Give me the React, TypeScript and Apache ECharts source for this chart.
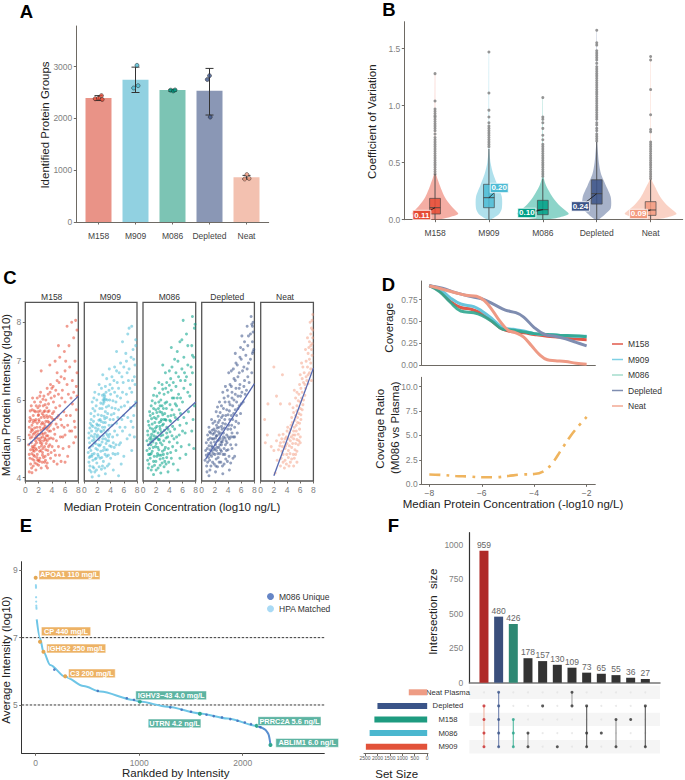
import React, { useEffect, useRef } from "react";
import * as echarts from "echarts";

const FONT = "'Liberation Sans', Arial, sans-serif";
const AX = "#6e6a64";
const cats = ["M158", "M909", "M086", "Depleted", "Neat"];
const solid = ["#E64B35", "#4DBBD5", "#00A087", "#3C5488", "#F39B7F"];
const barCols = ["#E99387", "#91D1E1", "#7CC4B4", "#8A97B5", "#F3C1B0"];

// A
const identified = [2394, 2748, 2548, 2535, 865];
const identifiedErr = [[2345, 2440], [2500, 2990], [2520, 2560], [2065, 2965], [830, 900]];
const identifiedDots = [
  [[0.91, 2380], [1.0, 2390], [1.08, 2440], [1.1, 2365]],
  [[2.04, 3025], [2.07, 2632], [1.95, 2587]],
  [[2.95, 2545], [3.02, 2530], [3.07, 2550]],
  [[4.02, 2025], [4.0, 2825], [3.94, 2750]],
  [[5.01, 915], [5.07, 840], [4.95, 830]],
];

// B
const violins = [
  [[0, .05], [.02, .25], [.05, .43], [.08, .38], [.12, .3], [.2, .18], [.3, .09], [.4, .02], [.5, .006], [1.28, .003]],
  [[0, .03], [.05, .19], [.1, .24], [.2, .24], [.3, .16], [.4, .08], [.5, .03], [.62, .008], [1.47, .003]],
  [[0, .05], [.02, .3], [.05, .48], [.08, .42], [.12, .32], [.2, .18], [.3, .06], [.36, .02], [.5, .006], [1.07, .003]],
  [[0, .03], [.05, .16], [.1, .26], [.2, .26], [.3, .17], [.4, .08], [.5, .04], [.6, .02], [.68, .008], [1.66, .003]],
  [[0, .05], [.02, .3], [.05, .48], [.08, .42], [.12, .32], [.2, .18], [.3, .07], [.35, .02], [.5, .006], [1.43, .003]],
];
const boxStats = [
  [.05, .105, .187, .4], [.105, .193, .31, .62], [.044, .088, .17, .36], [.137, .228, .35, .68], [.038, .085, .158, .35],
];
const medianLabels = ["0.11", "0.20", "0.10", "0.24", "0.09"];
const medianOffsets = [[-13.2, 7.3], [10.3, -9.7], [-16, 3.3], [-16.3, 12.7], [-12, 4]];
const outliers = [
  [1.28, 1.04, .97, .95, .93, .91, .9, .88, .86, .84, .82, .8, .78, .75, .72, .7, .68, .66, .64, .62, .6, .58, .56, .54, .52, .5, .48, .46, .44, .42, .4],
  [1.47, 1.11, .96, .9, .85, .82, .8, .78, .76, .74, .72, .7, .68, .66, .64],
  [1.07, .9, .88, .85, .8, .74, .7, .66, .64, .62, .6, .58, .56, .54, .52, .5, .48, .46, .44, .42, .4, .38],
  [1.66, 1.55, 1.53, 1.48, 1.46, 1.44, 1.42, 1.4, 1.37, 1.34, 1.32, 1.3, 1.28, 1.26, 1.24, 1.22, 1.2, 1.18, 1.16, 1.14, 1.12, 1.1, 1.08, 1.06, 1.04, 1.02, 1, .98, .96, .94, .92, .9, .88, .85, .83, .8, .78, .75, .73, .71, .69],
  [1.43, 1.4, 1.14, .92, .79, .77, .68, .66, .64, .62, .6, .58, .56, .54, .52, .5, .48, .46, .44, .42, .4, .38, .36],
];

// C
const scM158 = [[0.6,4.15],[1,4.13],[0.8,4.35],[1.2,4.3],[1.6,4.2],[2,4.32],[2.4,4.25],[2.9,4.4],[3.3,4.38],[3.8,4.5],[4.3,4.42],[4.8,4.35],[5.4,4.42],[6,4.4],[6.4,4.55],[0.6,4.6],[1,4.62],[1.4,4.55],[1.8,4.6],[2.2,4.5],[2.6,4.65],[3,4.55],[3.4,4.7],[3.9,4.65],[4.4,4.7],[5,4.8],[5.7,4.75],[6.6,4.8],[7.3,4.9],[0.5,4.85],[0.9,4.9],[1.3,4.8],[1.7,4.9],[2.1,4.78],[2.5,4.88],[2.9,4.8],[3.3,4.95],[3.7,4.85],[4.2,5],[4.7,4.95],[5.3,5.05],[6,5.1],[7,5.2],[7.6,5.05],[0.6,5.1],[1,5.05],[1.4,5.15],[1.8,5.02],[2.2,5.12],[2.6,5.05],[3,5.15],[3.4,5.08],[3.8,5.2],[4.3,5.25],[4.9,5.3],[5.5,5.35],[6.4,5.35],[7.4,5.45],[0.6,5.3],[1,5.35],[1.4,5.28],[1.8,5.4],[2.2,5.3],[2.6,5.42],[3,5.32],[3.4,5.45],[3.9,5.4],[4.4,5.5],[5,5.6],[5.8,5.7],[6.8,5.6],[7.7,5.75],[0.7,5.55],[1.2,5.6],[1.6,5.5],[2,5.62],[2.4,5.55],[2.8,5.7],[3.2,5.6],[3.6,5.72],[4.1,5.65],[4.6,5.8],[5.2,5.85],[6,5.95],[6.9,6.05],[7.8,6.1],[0.9,5.85],[1.4,5.95],[1.9,5.8],[2.3,5.95],[2.7,5.85],[3.1,6],[3.5,5.9],[3.9,6.05],[4.4,6.1],[5,6.15],[5.6,6.25],[6.3,6.4],[7.1,6.5],[7.7,6.35],[1.1,6.05],[2.3,6.2],[2.8,6.1],[3.3,6.3],[3.8,6.4],[4.2,6.35],[4.8,6.5],[5.4,6.6],[6,6.75],[6.7,6.85],[7.5,7],[2.4,6.75],[3.7,6.9],[4.5,7],[5.2,7.1],[5.9,7.25],[6.6,7.4],[7.3,7.6],[7.8,7.8],[6.3,7.9],[7,8],[7.6,8.05],[5,7.4],[4.8,6.7],[6.1,7],[1.3,4.45],[1.7,4.72],[2.3,4.95],[2.7,5.25],[3.1,4.72],[3.5,5.3],[1.1,5.22],[1.5,5.45],[1.9,5.2],[0.8,4.72],[2.05,5.5],[2.9,5.55],
  [0.7,4.5],[1.15,4.75],[1.45,4.38],[1.55,4.95],[1.75,5.3],[2.15,4.42],[2.35,5.22],[2.55,4.4],[2.75,4.95],[3.05,4.45],[3.25,5.25],[3.55,5],[3.75,5.35],[4.05,4.8],[4.15,5.5],[0.65,5.45],[0.85,5.18],[1.05,4.48],[1.25,5.48],[1.35,4.68],[1.65,5.08],[1.85,4.45],[1.95,5.6],[2.05,4.98],[2.25,5.72],[2.45,5.38],[2.65,4.75],[2.85,5.38],[2.95,5.02],[3.15,4.88],[3.35,5.55],[3.45,4.6],[3.65,5.58],[3.85,5.02],[4.45,5.12],[4.55,4.58],[4.65,5.38],[5.15,4.58],[5.35,5.5],[5.65,5.05],[5.85,5.3],[6.2,5.6],[6.7,5.2],[7.1,5.9],[7.5,5.3],[0.75,5.72],[1.05,5.75],[1.15,5.42],[1.55,5.7],[1.65,5.85],[1.75,4.52],[2.15,5.85],[2.35,4.7],[2.55,5.65],[2.65,6.02],[2.95,5.72],[3.25,5.8],[3.45,6.15],[3.55,5.2],[3.75,6.2],[4,6.3],[4.25,5.95],[4.6,6.25],[5.1,6.45],[5.5,6.05],[5.9,6.55],[6.5,6.15],[7.3,6.2],[7.8,6.7],[0.95,4.25],[1.25,4.58],[1.75,4.35],[2.15,4.68],[2.45,4.82],[2.75,4.52],[3.35,4.25],[3.15,4.3],[1.45,4.85],[1.6,5.18],[1.9,5.12],[2.3,5.02],[2.7,5.12],[0.95,5.25],[1.2,5.12],[1.5,5.02],[2.1,5.45],[2.5,5.15],[2.8,5.28],[3.2,5.08],[3.6,5.42],[3.95,5.55],[4.3,5.7],[4.8,5.55],[0.85,5.5],[1.35,5.72],[1.95,5.7],[2.75,5.6],[3.1,5.45],[3,5.88],[3.4,5.7],[2.2,6.1],[1.8,6.05],[1.2,4.7],[1.55,4.75],[0.75,5.02],[1.05,4.8],[2,4.45],[2.25,4.9],[2.6,4.58],[3.05,4.98],[3.5,4.8]];
const scM909 = [[1.2,4.02],[2.2,4.05],[3.2,4.1],[5.2,4.05],[0.8,4.2],[1.6,4.15],[2.6,4.22],[3.5,4.3],[4.4,4.2],[5.6,4.35],[0.7,4.4],[1.3,4.45],[1.9,4.38],[2.4,4.5],[2.9,4.42],[3.4,4.55],[4,4.5],[4.7,4.6],[6,4.55],[7.2,4.7],[0.6,4.65],[1,4.7],[1.5,4.62],[2,4.72],[2.5,4.68],[3,4.78],[3.5,4.72],[4.1,4.8],[4.8,4.85],[5.5,4.9],[6.5,5],[7.6,5.05],[0.8,4.9],[1.2,4.95],[1.7,4.88],[2.2,4.98],[2.7,4.92],[3.2,5],[3.7,4.95],[4.3,5.05],[5,5.1],[5.8,5.2],[6.9,5.1],[7.4,5.3],[0.7,5.15],[1.1,5.2],[1.6,5.12],[2.1,5.25],[2.6,5.18],[3.1,5.3],[3.6,5.22],[4.2,5.35],[4.9,5.4],[5.7,5.5],[6.6,5.55],[7.5,5.6],[0.9,5.4],[1.4,5.45],[1.9,5.38],[2.4,5.5],[2.9,5.42],[3.4,5.55],[3.9,5.5],[4.5,5.65],[5.2,5.75],[6.1,5.85],[7,5.8],[7.8,5.95],[1,5.65],[1.6,5.72],[2.1,5.62],[2.7,5.78],[3.2,5.7],[3.7,5.85],[4.2,5.8],[4.8,5.95],[5.5,6.05],[6.4,6.15],[7.2,6.2],[7.7,6.4],[1.2,5.95],[1.9,6],[2.5,5.92],[3,6.05],[3.5,6],[4,6.15],[4.6,6.2],[5.2,6.3],[5.9,6.45],[6.7,6.5],[7.6,6.6],[1.6,6.2],[2.6,6.3],[3.2,6.35],[3.9,6.4],[4.5,6.5],[5.3,6.7],[6,6.85],[6.8,6.8],[7.5,7.05],[2.8,6.65],[3.8,6.8],[4.6,6.85],[5.5,6.95],[6.3,7.2],[7.1,7.1],[7.8,7.4],[4.9,7.25],[5.8,7.5],[6.6,7.7],[7.2,7.9],[6.8,7.85],[7.8,7.55],[3,5.95],[2.9,5.08],[1.8,4.5],[2.3,4.82],[3.3,4.88],[1.4,5.05],[0.9,4.55],[2,5.35],[3,5.58],[1.3,4.28],[4.4,4.9],[3.5,5.1],
  [0.85,4.3],[1.05,4.15],[1.45,4.25],[1.85,4.2],[2.25,4.28],[2.75,4.3],[3.1,4.25],[3.75,4.35],[0.75,4.52],[1.15,4.55],[1.65,4.48],[2.15,4.55],[2.65,4.52],[3.15,4.6],[3.65,4.58],[4.35,4.62],[5.1,4.62],[0.85,4.78],[1.25,4.82],[1.75,4.75],[2.05,4.6],[2.45,4.85],[2.85,4.7],[3.25,4.72],[3.85,4.82],[4.55,4.78],[5.3,4.85],[0.7,5.02],[1.05,5.08],[1.5,4.98],[2,5.1],[2.35,5.05],[2.8,5],[3.3,5.15],[3.85,5.12],[4.6,5.2],[5.4,5.3],[6.2,5.3],[0.85,5.28],[1.3,5.32],[1.85,5.2],[2.3,5.35],[2.75,5.3],[3.2,5.42],[3.75,5.35],[4.4,5.5],[5.1,5.55],[6,5.6],[7.1,5.45],[1.05,5.5],[1.5,5.58],[2.2,5.48],[2.6,5.6],[3.1,5.52],[3.55,5.65],[4.1,5.62],[4.7,5.78],[5.6,5.82],[6.6,5.95],[7.6,5.85],[1.3,5.78],[1.8,5.85],[2.35,5.78],[2.85,5.9],[3.35,5.82],[3.85,6],[4.35,5.98],[5,6.1],[5.8,6.2],[6.9,6.3],[1.45,6.05],[2.2,6.15],[2.75,6.12],[3.3,6.2],[3.75,6.25],[4.25,6.3],[5,6.45],[5.7,6.6],[6.5,6.7],[7.3,6.5],[2.25,6.4],[3.4,6.55],[4.2,6.6],[4.9,6.75],[6.4,7],[7.4,7.3],[7.7,6.9],[2.85,6],[3.1,6.1],[3.05,6],[3.25,6.02],[3,6.15],[1.55,4.9],[1.9,5.05],[2.5,5.2],[1.2,4.6],[2.1,4.85],[1.1,5.35],[1.7,5.28],[2.55,5.45],[3.45,4.95],[2.95,5.22],[3.7,5.05]];
const scM086 = [[1.6,4.08],[2.7,4.12],[3.8,4.15],[5.3,4.2],[0.8,4.25],[1.4,4.28],[2,4.2],[2.6,4.32],[3.2,4.28],[3.9,4.4],[4.6,4.35],[5.6,4.5],[6.5,4.6],[0.7,4.45],[1.1,4.5],[1.6,4.42],[2.1,4.55],[2.6,4.48],[3.1,4.6],[3.6,4.52],[4.2,4.65],[5,4.7],[5.8,4.8],[7,4.85],[7.7,4.75],[0.6,4.7],[1,4.75],[1.4,4.68],[1.9,4.8],[2.4,4.72],[2.9,4.85],[3.4,4.78],[4,4.92],[4.7,5],[5.5,5.1],[6.4,5.15],[7.4,5.2],[0.6,4.95],[1,5],[1.5,4.92],[2,5.05],[2.5,4.98],[3,5.1],[3.5,5.02],[4.1,5.18],[4.8,5.25],[5.6,5.35],[6.6,5.4],[7.6,5.5],[0.7,5.2],[1.1,5.28],[1.6,5.18],[2.1,5.32],[2.6,5.25],[3.1,5.38],[3.6,5.3],[4.2,5.45],[4.9,5.55],[5.7,5.65],[6.9,5.7],[7.8,5.85],[0.8,5.45],[1.3,5.52],[1.8,5.42],[2.3,5.58],[2.8,5.5],[3.3,5.65],[3.8,5.58],[4.4,5.75],[5.1,5.85],[6,5.95],[7.1,6.1],[1,5.7],[1.6,5.78],[2.1,5.68],[2.6,5.85],[3.1,5.78],[3.6,5.95],[4.1,5.88],[4.7,6.05],[5.4,6.15],[6.2,6.3],[7.2,6.4],[1.4,5.98],[2.1,6.1],[2.7,6],[3.2,6.15],[3.8,6.2],[4.3,6.25],[5,6.35],[5.7,6.5],[6.6,6.6],[7.5,6.7],[1.8,6.3],[2.9,6.4],[3.6,6.45],[4.2,6.55],[5,6.7],[5.9,6.8],[6.8,6.9],[7.7,7.1],[3,6.9],[4.4,6.85],[5.3,7],[6.2,7.1],[7.5,7.15],[4.3,7.35],[5.6,7.5],[5.9,7.55],[6.8,7.4],[6.1,8.05],[7.5,8.15],[7.9,7.95],[7.8,7.85],[1.2,4.85],[2.2,4.62],[3.3,4.42],[2.8,5.18],[1.7,5.55],[3.4,5.5],[2.4,5.95],[1.3,5.12],[2.75,4.58],[2,4.88],[3.7,4.62],
  [0.9,4.35],[1.25,4.2],[1.75,4.32],[2.3,4.25],[2.9,4.38],[3.5,4.35],[4.3,4.5],[0.85,4.6],[1.25,4.62],[1.7,4.55],[1.95,4.42],[2.45,4.58],[2.95,4.68],[3.25,4.72],[3.85,4.75],[4.5,4.8],[5.2,4.9],[0.8,4.85],[1.15,4.92],[1.55,4.78],[1.75,5],[2.25,4.78],[2.65,4.9],[3.15,4.95],[3.75,5.05],[4.4,5.08],[5.1,5.05],[6,5.2],[0.75,5.1],[1.2,5.05],[1.65,5.08],[1.85,5.2],[2.3,5.15],[2.7,5.08],[3.25,5.22],[3.8,5.25],[4.5,5.32],[5.3,5.5],[6.2,5.55],[0.9,5.35],[1.4,5.38],[1.9,5.28],[2.45,5.42],[2.95,5.35],[3.5,5.48],[4.05,5.48],[4.7,5.62],[5.5,5.75],[1.1,5.6],[1.5,5.65],[2,5.52],[2.55,5.7],[3,5.62],[3.55,5.78],[4.25,5.6],[4.9,5.9],[5.7,6.05],[6.8,6.2],[1.25,5.85],[1.85,5.92],[2.35,5.78],[2.9,5.85],[3.35,5.92],[4.45,6.05],[5.2,6.05],[6.4,6.5],[1.6,6.12],[2.5,6.18],[3,6.28],[3.45,6.3],[4,6.38],[4.6,6.45],[5.4,6.6],[6.3,6.7],[7.3,6.85],[2.4,6.45],[3.4,6.7],[4,6.75],[4.8,7.05],[5.2,7.25],[6.6,7.7],[7.4,7.4],[1.05,4.6],[2.15,5.02],[2.55,5.32],[1.45,5.25],[3.15,5.5],[2.35,4.98],[1.35,4.98],[3.05,4.5],[2.85,5.68],[1.95,5.75],[2.7,5.45],[3.6,5.15]];
const scDepl = [[1.1,4.05],[0.8,4.15],[2.1,4.15],[3.2,4.1],[4.2,4.2],[0.5,4.45],[0.9,4.4],[1.4,4.3],[1.9,4.35],[2.4,4.28],[2.9,4.4],[3.4,4.35],[3.9,4.42],[4.4,4.38],[5,4.55],[0.6,4.7],[1,4.62],[1.5,4.55],[2,4.6],[2.5,4.52],[3,4.68],[3.5,4.6],[4,4.72],[4.6,4.75],[5.2,4.85],[0.7,4.9],[1.1,4.82],[1.6,4.78],[2.1,4.85],[2.6,4.78],[3.1,4.92],[3.6,4.85],[4.2,5],[4.8,5.05],[5.4,5.15],[0.9,5.1],[1.3,5.02],[1.8,5],[2.3,5.08],[2.8,5.02],[3.3,5.15],[3.8,5.1],[4.4,5.25],[5,5.3],[5.6,5.4],[1.1,5.3],[1.6,5.22],[2.1,5.2],[2.6,5.3],[3.1,5.25],[3.6,5.38],[4.1,5.35],[4.7,5.5],[5.3,5.6],[5.9,5.65],[1.5,5.5],[2,5.45],[2.5,5.42],[3,5.55],[3.5,5.5],[4,5.62],[4.5,5.6],[5.1,5.75],[5.7,5.85],[6.3,5.95],[2.2,5.7],[2.8,5.68],[3.3,5.78],[3.8,5.75],[4.3,5.88],[4.9,6],[5.5,6.1],[6.1,6.2],[6.8,6.25],[2.7,5.95],[3.4,6.05],[4,6.1],[4.6,6.2],[5.2,6.3],[5.8,6.4],[6.5,6.5],[7.2,6.45],[3.6,6.35],[4.3,6.4],[4.9,6.55],[5.5,6.6],[6.2,6.75],[6.9,6.8],[7.6,6.7],[4.1,6.7],[4.8,6.8],[5.4,6.9],[6,7.05],[6.7,7.15],[7.4,7.05],[7.8,7.25],[5.1,7.2],[5.9,7.35],[6.5,7.5],[7.1,7.65],[7.8,7.75],[7.6,7.95],[7.5,8.15],[6.9,7.9],[7.9,7.3],[1.3,4.6],[1.9,4.72],[2.4,4.95],[2.2,4.48],[2.9,5.15],[3.4,4.75],[1.7,5.12],[2.5,5.58],[3.2,5.4],[1.4,4.9],[2.75,4.62],[3.7,4.95],[4.6,5.15],[3,4.85],[0.7,4.58],[1.2,4.45],
  [0.75,4.3],[1.25,4.2],[1.65,4.4],[2.15,4.3],[2.65,4.4],[3.15,4.3],[3.65,4.48],[4.15,4.55],[4.75,4.5],[0.85,4.75],[1.25,4.72],[1.75,4.62],[2.25,4.7],[2.75,4.85],[3.25,4.6],[3.75,4.7],[4.4,4.85],[5,5.05],[1,4.98],[1.5,4.82],[1.95,4.92],[2.35,4.78],[2.65,4.98],[3.2,4.98],[3.55,5.02],[4.05,5.05],[4.55,5.35],[5.2,5.45],[1.2,5.18],[1.85,5.25],[2.2,5.08],[2.55,5.18],[3,5.32],[3.45,5.28],[3.95,5.25],[4.25,5.5],[4.85,5.65],[5.5,5.78],[6,5.9],[1.7,5.4],[2.25,5.35],[2.7,5.48],[3.2,5.6],[3.65,5.6],[4.2,5.72],[4.7,5.85],[5.3,5.95],[5.9,6.1],[6.6,6.15],[2.4,5.82],[3,5.85],[3.55,5.95],[4.15,5.95],[4.6,6.05],[5.1,6.15],[5.7,6.3],[6.4,6.35],[7,6.6],[3.2,6.2],[3.9,6.25],[4.5,6.35],[5.1,6.5],[5.7,6.7],[6.4,6.85],[7.1,6.95],[7.7,7.2],[4.5,6.75],[5.2,6.95],[5.8,7.1],[6.3,7.3],[7,7.4],[7.7,7.5],[6.1,7.65],[7.4,7.7],[7.8,8],[7.7,7.9],[1.05,4.52],[1.55,4.68],[2.1,5.02],[2.45,4.62],[2.85,4.72],[3.3,5.05],[1.9,5.15],[2.35,5.28],[1.35,5.15],[2.65,5.12],[3.85,4.9],[4.45,5.05],[1.6,5],[2,4.75],[2.95,4.92]];
const scNeat = [[2.2,4.12],[3,4.3],[3.6,4.25],[4.3,4.3],[5,4.3],[5.5,4.4],[2.5,4.45],[3.1,4.5],[3.7,4.45],[4.2,4.52],[4.7,4.48],[5.3,4.6],[6,4.9],[2,4.7],[2.7,4.72],[3.2,4.68],[3.7,4.75],[4.2,4.7],[4.7,4.78],[5.2,4.72],[5.7,4.85],[1.6,4.8],[2.4,4.95],[3,4.9],[3.5,4.92],[4,4.88],[4.5,4.95],[5,5],[5.5,4.98],[6,5.05],[0.7,4.9],[2.8,5.1],[3.4,5.12],[3.9,5.05],[4.4,5.15],[4.9,5.1],[5.4,5.2],[5.9,5.25],[1,5.1],[4.1,5.3],[4.6,5.35],[5.1,5.3],[5.6,5.42],[6.1,5.5],[0.6,5.5],[4.7,5.55],[5.3,5.6],[5.8,5.65],[6.3,5.75],[4.9,5.8],[5.5,5.85],[6,5.95],[6.5,6],[5.3,6.05],[5.8,6.15],[6.3,6.2],[6.8,6.3],[5.1,6.25],[5.9,6.4],[6.5,6.45],[7,6.5],[6,6.65],[6.6,6.7],[7.2,6.65],[7.6,6.8],[3.3,6.65],[6.2,6.95],[6.9,7],[7.4,7.05],[7.8,7.15],[2,6.85],[6.8,7.3],[7.3,7.35],[7.8,7.45],[7.1,7.6],[7.6,7.7],[7.9,7.8],[7.5,8],[7.8,8.05],[7.9,8.2],[2.4,6.1],[3,5.9],[4.4,5.9],[1.1,5.9],[7.7,7.3],[7.7,6.5],
  [3.4,4.4],[3.9,4.35],[4.5,4.4],[5.1,4.5],[3.4,4.6],[3.95,4.6],[4.45,4.62],[4.95,4.6],[5.5,4.68],[2.9,4.82],[3.3,4.8],[3.8,4.82],[4.35,4.82],[4.85,4.88],[5.3,4.88],[5.8,4.95],[3.2,5],[3.7,5],[4.2,5],[4.65,5.05],[5.2,5.1],[5.7,5.12],[4,5.2],[4.5,5.25],[5,5.2],[5.4,5.35],[5.9,5.4],[4.8,5.42],[5.2,5.48],[5.6,5.55],[6.1,5.62],[5,5.68],[5.5,5.72],[6,5.78],[6.4,5.88],[5.7,5.98],[6.2,6.05],[6.7,6.12],[5.5,6.2],[6.1,6.3],[6.7,6.4],[7.2,6.42],[6.3,6.55],[6.9,6.6],[7.4,6.7],[6.4,6.85],[7.1,6.85],[7.6,6.95],[7.2,7.2],[7.6,7.4],[7.9,7.6],[7.7,7.85],[7.4,7.5]];
const scatters = [scM158, scM909, scM086, scDepl, scNeat];
const trends = [[[0.5, 4.85], [8, 6.1]], [[0.6, 4.75], [8, 5.95]], [[0.7, 4.82], [8, 5.95]], [[0.6, 4.48], [8, 6.42]], [[2, 4.05], [8, 6.82]]];

// D
const covM158 = [[-8,.91],[-7.6,.85],[-7.2,.73],[-6.8,.66],[-6.4,.64],[-6,.59],[-5.6,.5],[-5.2,.41],[-4.8,.38],[-4.4,.37],[-4,.35],[-3.5,.33],[-3,.32],[-2.5,.3],[-2,.29]];
const covM909 = [[-8,.91],[-7.6,.87],[-7.2,.77],[-6.8,.7],[-6.3,.67],[-6,.62],[-5.6,.53],[-5.2,.43],[-4.8,.41],[-4.4,.39],[-4,.36],[-3.5,.35],[-3,.34],[-2.5,.33],[-2,.33]];
const covM086 = [[-8,.91],[-7.6,.84],[-7.2,.72],[-6.8,.62],[-6.3,.6],[-6,.57],[-5.6,.5],[-5.2,.41],[-4.8,.4],[-4.4,.38],[-4,.36],[-3.5,.35],[-3,.34],[-2.5,.335],[-2,.325]];
const covDepl = [[-8,.91],[-7.5,.88],[-7,.83],[-6.5,.79],[-6,.76],[-5.5,.69],[-5.1,.63],[-4.7,.6],[-4.4,.55],[-4,.43],[-3.6,.35],[-3.2,.33],[-2.8,.3],[-2.4,.26],[-2,.22]];
const covNeat = [[-8,.91],[-7.5,.87],[-7,.83],[-6.6,.8],[-6.2,.79],[-5.9,.74],[-5.6,.63],[-5.3,.5],[-5,.4],[-4.7,.37],[-4.4,.32],[-4.1,.22],[-3.8,.12],[-3.5,.06],[-3.2,.05],[-2.8,.04],[-2.4,.02],[-2,.01]];
const covLines = [covM158, covM909, covM086, covDepl, covNeat];
const covCols = ["#E0594A", "#68C5DC", "#2FA68F", "#7F8DB0", "#EE9A85"];
const covLegendCols = ["#E0594A", "#7FD0E4", "#A5DCCD", "#7F8DB0", "#F2A893"];
const ratio = [[-8,1],[-7.5,.95],[-7,.85],[-6.5,.8],[-6,.72],[-5.5,.72],[-5,.85],[-4.5,1],[-4,1.05],[-3.6,1.4],[-3.3,2.2],[-3,3.4],[-2.6,5],[-2.3,6],[-2,6.9]];

// E
const rankCurve = [[10,7.54],[42,6.98],[75,6.58],[140,6.19],[285,5.84],[463,5.56],[625,5.4],[948,5.15],[1006,5.1],[1272,4.95],[1586,4.75],[1854,4.6],[2135,4.38],[2210,4.28]];
const rankTail = [[2135,4.38],[2210,4.28],[2240,4.18],[2252,4.1],[2262,3.95],[2268,3.81]];
const rankTop = [[2,8.56],[3,8.52],[3,8.48],[4,8.2],[5,8.07],[6,7.95],[7,7.9],[8,7.86]];
const uniqueDots = [[180,6.05],[600,5.42],[880,5.2],[950,5.15],[1300,4.93],[1410,4.86],[1500,4.8],[1650,4.71],[1720,4.67],[1800,4.63],[1880,4.58],[1950,4.53],[2020,4.48],[2080,4.43],[2170,4.34]];
const proteins = [
  ["APOA1 110 mg/L", 0, 8.78, 0], ["CP 440 mg/L", 42, 6.88, 0], ["IGHG2 250 mg/L", 75, 6.58, 0], ["C3 200 mg/L", 285, 5.85, 0],
  ["IGHV3\u221243 4.0 mg/L", 1006, 5.1, 1], ["UTRN 4.2 ng/L", 1586, 4.74, 1], ["PRRC2A 5.6 ng/L", 2135, 4.38, 1], ["ABLIM1 6.0 ng/L", 2268, 3.81, 1],
];
const proteinBoxes = [[33.8, -2.7, 61], [26, -10.3, 49.3], [32.8, -3.3, 59], [26.7, -3, 46.7], [31.3, -6.2, 70.7], [-25.3, 9.7, 52.7], [32.8, -4.8, 63], [36.7, -2.2, 62.7]];

// F
const intersections = [959, 480, 426, 178, 157, 130, 109, 73, 65, 55, 36, 27];
const interCols = ["#AF2A27", "#3A4F7C", "#2E8873", "#333", "#333", "#333", "#333", "#333", "#333", "#333", "#333", "#333"];
const setNames = ["Neat Plasma", "Depleted", "M158", "M086", "M909"];
const setSizes = [740, 2000, 2123, 2315, 2466];
const setCols = ["#EE9C84", "#3A5488", "#1E9B80", "#4BB7CF", "#E2523A"];
const members = [[1, 2, 3, 4], [0, 1, 2, 3, 4], [2, 3, 4], [3, 4], [1], [4], [0, 1], [1, 3, 4], [3], [2, 4], [2], [1, 4]];
const memberLine = ["#F2BBAA", "#7C8CB5", "#5FBFA8", "#aaa", "#aaa", "#aaa", "#aaa", "#666", "#aaa", "#999", "#aaa", "#666"];
const memberDot = ["#C8282A", "#3A5488", "#2BA58C", "#333", "#333", "#333", "#333", "#333", "#333", "#333", "#333", "#333"];

const grids = [
  { left: 76.3, top: 26, width: 192.4, height: 196 },
  { left: 404.3, top: 21.7, width: 278.4, height: 198 },
  { left: 25.3, top: 302.3, width: 53, height: 178.7 },
  { left: 84.3, top: 302.3, width: 52.7, height: 178.7 },
  { left: 143, top: 302.3, width: 52.7, height: 178.7 },
  { left: 201.7, top: 302.3, width: 52.7, height: 178.7 },
  { left: 260.7, top: 302.3, width: 52.7, height: 178.7 },
  { left: 421.7, top: 281, width: 173.6, height: 84 },
  { left: 421.7, top: 377.3, width: 173.6, height: 107 },
  { left: 21.7, top: 561.7, width: 302.6, height: 191.6 },
  { left: 469.3, top: 532.7, width: 190.7, height: 150 },
  { left: 364, top: 685.5, width: 64, height: 68 },
  { left: 469.3, top: 685.5, width: 190.7, height: 68 },
];

const valueAxis = (g: number, min: number, max: number, vals: number[] | null, label: any = {}, extra: any = {}) => ({
  type: "value", gridIndex: g, min, max,
  splitLine: { show: false },
  axisLine: { show: true, onZero: false, lineStyle: { color: AX, width: 1 } },
  axisTick: vals ? { show: true, customValues: vals, length: 2.5, lineStyle: { color: AX } } : { show: false },
  axisLabel: vals ? { show: true, customValues: vals, color: "#7f7f7f", fontSize: 8.5, margin: 4, formatter: (v: number) => String(v), ...label } : { show: false },
  ...extra,
});

const facetExtra = { axisLine: { show: false } };
const xAxes: any[] = [
  valueAxis(0, .4, 5.6, [1, 2, 3, 4, 5], { color: "#444", fontSize: 8.5, margin: 9, formatter: (v: number) => cats[v - 1] }),
  valueAxis(1, .43, 5.595, [1, 2, 3, 4, 5], { color: "#444", fontSize: 8.5, margin: 9, formatter: (v: number) => cats[v - 1] }),
  ...[2, 3, 4, 5, 6].map((g) => valueAxis(g, 0, 8, [0, 2, 4, 6, 8], { margin: 4 }, facetExtra)),
  valueAxis(7, -8.29, -1.67, null, {}, { axisLine: { show: true, onZero: false, lineStyle: { color: AX, width: 1.2 } } }),
  valueAxis(8, -8.29, -1.67, [-8, -6, -4, -2], { formatter: (v: number) => "\u2212" + Math.abs(v), color: "#666" }),
  valueAxis(9, -135, 2788, [0, 1000, 2000], { margin: 5 }, { axisLine: { show: true, onZero: false, lineStyle: { color: "#333", width: 1 } } }),
  valueAxis(10, 0, 13, null, {}, { axisLine: { show: true, onZero: false, lineStyle: { color: "#777", width: 1.5 } } }),
  valueAxis(11, -33, 2541, [0, 500, 1000, 1500, 2000, 2500], { fontSize: 5, margin: 2, color: "#555" }, { inverse: true }),
  valueAxis(12, 0, 13, null, {}, { axisLine: { show: false } }),
];
const yAxes: any[] = [
  valueAxis(0, 0, 3784, [0, 1000, 2000, 3000]),
  valueAxis(1, 0, 1.735, [0, .5, 1, 1.5], { formatter: (v: number) => v.toFixed(1) }),
  valueAxis(2, 3.915, 8.515, [4, 5, 6, 7, 8], {}, facetExtra),
  ...[3, 4, 5, 6].map((g) => valueAxis(g, 3.915, 8.515, null, {}, facetExtra)),
  valueAxis(7, 0, .964, [0, .25, .5, .75], { formatter: (v: number) => v.toFixed(2) }),
  valueAxis(8, 0, 10.96, [0, 2.5, 5, 7.5, 10], { formatter: (v: number) => v.toFixed(1) }),
  valueAxis(9, 3.565, 9.255, [5, 7, 9], {}, { axisLine: { show: true, onZero: false, lineStyle: { color: "#333", width: 1 } } }),
  valueAxis(10, 0, 1090, [0, 250, 500, 750, 1000], { margin: 6 }, { axisTick: { show: false }, axisLine: { show: true, onZero: false, lineStyle: { color: "#333", width: 1.2 } } }),
  {
    type: "category", gridIndex: 11, data: setNames, inverse: true, position: "right",
    axisLine: { show: false }, axisTick: { show: false },
    axisLabel: { color: "#333", fontSize: 7.7, align: "center", margin: 20, interval: 0 },
  },
  {
    type: "category", gridIndex: 12, data: setNames, inverse: true,
    axisLine: { show: false }, axisTick: { show: false }, axisLabel: { show: false },
    splitArea: { show: true, interval: 0, areaStyle: { color: ["#F5F5F5", "#FFFFFF"] } },
  },
];

const txt = (text: string, x: number, y: number, size: number, opt: any = {}) => ({
  type: "text", x, y, rotation: opt.rot || 0, z: 50, silent: true,
  style: {
    text, fill: opt.color || "#222", font: `${opt.bold ? "bold " : ""}${size}px ${FONT}`,
    align: opt.align || "center", textAlign: opt.align || "center", verticalAlign: "middle", textVerticalAlign: "middle",
  },
});
const R = Math.PI / 2;
const graphics = [
  txt("A", 26.5, 11.5, 18.5, { bold: true, color: "#000" }),
  txt("B", 389, 9, 18.5, { bold: true, color: "#000" }),
  txt("C", 10, 277, 18.5, { bold: true, color: "#000" }),
  txt("D", 388.5, 284, 18.5, { bold: true, color: "#000" }),
  txt("E", 26, 525, 18.5, { bold: true, color: "#000" }),
  txt("F", 393.5, 525, 18.5, { bold: true, color: "#000" }),
  txt("Identified Protein Groups", 45, 125, 11.5, { rot: R }),
  txt("Coefficient of Variation", 371.7, 121.7, 11.5, { rot: R }),
  txt("Median Protein Intensity (log10)", 6, 395, 11.5, { rot: R }),
  txt("Median Protein Concentration (log10 ng/L)", 172, 507, 11.5),
  txt("Coverage", 389, 327.7, 11.5, { rot: R }),
  txt("Coverage Ratio", 380, 428.7, 11.5, { rot: R }),
  txt("(M086 vs Plasma)", 395, 427.7, 11.5, { rot: R }),
  txt("Median Protein Concentration (-log10 ng/L)", 513, 504, 11.5),
  txt("Average Intensity (log10)", 6, 660, 11.5, { rot: R }),
  txt("Rankded by Intensity", 175.7, 772.7, 11.5),
  txt("Intersection  size", 433, 611.7, 11.5, { rot: R }),
  txt("Set Size", 396.7, 774, 11.5),
  ...cats.map((c, i) => txt(c, [51.7, 110.3, 169.3, 227.3, 285][i], 296.7, 8.5, { color: "#333" })),
];

const on = (g: number) => ({ xAxisIndex: g, yAxisIndex: g });
const line = (a: number[], b: number[], style: any) => ({ type: "line", shape: { x1: a[0], y1: a[1], x2: b[0], y2: b[1] }, style });

const series: any[] = [
  // A
  {
    type: "bar", ...on(0), barWidth: 26,
    data: identified.map((v, i) => ({ value: [i + 1, v], itemStyle: { color: barCols[i] } })),
  },
  {
    type: "custom", ...on(0), z: 5, data: identifiedErr.map((e, i) => [i + 1, e[0], e[1]]),
    renderItem: (_p: any, api: any) => {
      const x = api.value(0);
      const lo = api.coord([x, api.value(1)]);
      const hi = api.coord([x, api.value(2)]);
      const s = { stroke: "#333", lineWidth: 1 };
      return {
        type: "group",
        children: [line(lo, hi, s), line([lo[0] - 4, lo[1]], [lo[0] + 4, lo[1]], s), line([hi[0] - 4, hi[1]], [hi[0] + 4, hi[1]], s)],
      };
    },
  },
  ...identifiedDots.map((d, i) => ({
    type: "scatter", ...on(0), z: 6, symbolSize: 4, data: d,
    itemStyle: { color: solid[i], opacity: .8, borderColor: "#222", borderWidth: .6 },
  })),
  // B
  ...outliers.map((o, i) => ({
    type: "scatter", ...on(1), symbolSize: 3, z: 3, data: o.map((v) => [i + 1, v]),
    itemStyle: { color: "#8a8a8a", opacity: .9 },
  })),
  {
    type: "custom", ...on(1), z: 2, data: cats.map((_, i) => [i + 1, 0]),
    renderItem: (p: any, api: any) => {
      const i = p.dataIndex;
      const prof = violins[i];
      const right = prof.map((d) => api.coord([i + 1 + d[1], d[0]]));
      const left = prof.slice().reverse().map((d) => api.coord([i + 1 - d[1], d[0]]));
      return {
        type: "polygon", shape: { points: right.concat(left), smooth: .25 },
        style: { fill: solid[i], opacity: .45 },
      };
    },
  },
  {
    type: "custom", ...on(1), z: 4, data: cats.map((_, i) => [i + 1, 0]),
    renderItem: (p: any, api: any) => {
      const i = p.dataIndex;
      const c = i + 1;
      const [q1, med, q3, top] = boxStats[i];
      const pLo = api.coord([c, q1]);
      const pHi = api.coord([c, q3]);
      const pMed = api.coord([c, med]);
      const s = { stroke: "#444", lineWidth: .9 };
      const hw = 5.4;
      const [dx, dy] = medianOffsets[i];
      const cx = pMed[0] + dx;
      const cy = pMed[1] + dy;
      return {
        type: "group",
        children: [
          line(api.coord([c, 0]), api.coord([c, top]), s),
          { type: "rect", shape: { x: pHi[0] - hw, y: pHi[1], width: hw * 2, height: pLo[1] - pHi[1] }, style: { fill: solid[i], opacity: .85, stroke: "#444", lineWidth: .8 } },
          line([pMed[0] - hw, pMed[1]], [pMed[0] + hw, pMed[1]], s),
          line(pMed, [cx, cy], { stroke: "#111", lineWidth: .8 }),
          { type: "rect", shape: { x: cx - 9, y: cy - 4.7, width: 18, height: 9.4 }, style: { fill: solid[i], stroke: "#fff", lineWidth: .8 } },
          { type: "text", style: { text: medianLabels[i], x: cx, y: cy, fill: "#fff", font: `bold 8px ${FONT}`, align: "center", textAlign: "center", verticalAlign: "middle", textVerticalAlign: "middle" } },
        ],
      };
    },
  },
  // C
  ...scatters.map((d, i) => ({
    type: "scatter", ...on(i + 2), symbolSize: 3, data: d, clip: true,
    itemStyle: { color: solid[i], opacity: i === 4 ? .5 : .55 },
  })),
  ...trends.map((d, i) => ({
    type: "line", ...on(i + 2), data: d, showSymbol: false, z: 4,
    lineStyle: { color: "#5568B0", width: 1.3 },
  })),
  // D
  ...covLines.map((d, i) => ({
    type: "line", name: cats[i], ...on(7), data: d, smooth: .4, showSymbol: false, clip: false,
    itemStyle: { color: covLegendCols[i] },
    lineStyle: { color: covCols[i], width: 3, opacity: i === 2 ? .9 : 1 },
  })),
  {
    type: "line", ...on(8), data: ratio, smooth: .4, showSymbol: false,
    lineStyle: { color: "#EFB45E", width: 2.6, type: [11, 6, 3, 6] },
  },
  // E
  ...[7, 5].map((v) => ({
    type: "line", ...on(9), data: [[-135, v], [2788, v]], showSymbol: false,
    lineStyle: { color: "#222", width: .9, type: [2.5, 1.5] },
  })),
  {
    type: "line", name: "HPA Matched", ...on(9), data: rankCurve, smooth: .3, smoothMonotone: "x", showSymbol: false,
    itemStyle: { color: "#A9DAF5" }, lineStyle: { color: "#6EC5E6", width: 2 },
  },
  {
    type: "line", ...on(9), data: rankTail, smooth: .3, showSymbol: false, z: 3,
    lineStyle: { color: "#5A8FD0", width: 2 },
  },
  {
    type: "scatter", ...on(9), symbolSize: 2.2, data: rankTop, itemStyle: { color: "#7FD0EE" },
  },
  {
    type: "scatter", name: "M086 Unique", ...on(9), symbolSize: 2.6, z: 4, data: uniqueDots, itemStyle: { color: "#3E67B8" },
  },
  {
    type: "custom", ...on(9), z: 6, data: proteins.map((p) => [p[1], p[2]]),
    renderItem: (p: any, api: any) => {
      const i = p.dataIndex;
      const pt = api.coord([api.value(0), api.value(1)]);
      const col = proteins[i][3] ? "#5DB4A2" : "#EDB265";
      const [dx, dy, w] = proteinBoxes[i];
      const cx = pt[0] + dx;
      const cy = pt[1] + dy;
      return {
        type: "group",
        children: [
          { type: "circle", shape: { cx: pt[0], cy: pt[1], r: 2 }, style: { fill: proteins[i][3] ? "#2FA68F" : "#E3A652" } },
          { type: "rect", shape: { x: cx - w / 2, y: cy - 4.4, width: w, height: 8.8 }, style: { fill: col, stroke: "#fff", lineWidth: .5 } },
          { type: "text", style: { text: proteins[i][0], x: cx, y: cy, fill: "#fff", font: `bold 7.4px ${FONT}`, align: "center", textAlign: "center", verticalAlign: "middle", textVerticalAlign: "middle" } },
        ],
      };
    },
  },
  // F
  {
    type: "bar", ...on(10), barWidth: 9,
    data: intersections.map((v, i) => ({ value: [i + 1, v], itemStyle: { color: interCols[i] } })),
    label: { show: true, position: "top", distance: 1.5, color: "#666", fontSize: 8.5, formatter: (p: any) => String(p.value[1]) },
  },
  {
    type: "bar", ...on(11), barWidth: 6,
    data: setSizes.map((v, i) => ({ value: v, itemStyle: { color: setCols[i] } })),
  },
  {
    type: "scatter", ...on(12), symbolSize: 2, z: 2,
    data: intersections.flatMap((_, c) => setNames.map((_n, r) => [c + 1, r])),
    itemStyle: { color: "#E4E4E4" },
  },
  {
    type: "custom", ...on(12), z: 3, data: members.map((m, c) => [c + 1, m[0], m[m.length - 1]]),
    renderItem: (p: any, api: any) => {
      const c = api.value(0);
      return line(api.coord([c, api.value(1)]), api.coord([c, api.value(2)]), { stroke: memberLine[p.dataIndex], lineWidth: 1.2 });
    },
  },
  {
    type: "scatter", ...on(12), symbolSize: 3, z: 4,
    data: members.flatMap((m, c) => m.map((r) => ({ value: [c + 1, r], itemStyle: { color: memberDot[c] } }))),
  },
];

const legends = [
  {
    show: true, orient: "vertical", left: 612, top: 338, data: cats, selectedMode: false,
    icon: "rect", itemWidth: 11, itemHeight: 1.5, itemGap: 3.5, padding: 0,
    itemStyle: { borderWidth: 0 }, lineStyle: { width: 0 },
    textStyle: { color: "#333", fontSize: 8.5, lineHeight: 12, padding: [0, 0, 0, 0] },
  },
  {
    show: true, orient: "vertical", left: 267, top: 590.5, data: ["M086 Unique", "HPA Matched"], selectedMode: false,
    icon: "circle", itemWidth: 7, itemHeight: 7, itemGap: .3, padding: 0,
    textStyle: { color: "#333", fontSize: 8.5, lineHeight: 12 },
  },
];

const option: any = {
  animation: false,
  backgroundColor: "#fff",
  textStyle: { fontFamily: FONT },
  grid: grids.map((g, i) =>
    i >= 2 && i <= 6
      ? { ...g, show: true, borderColor: "#555", borderWidth: 1.3, backgroundColor: "transparent" }
      : g,
  ),
  xAxis: xAxes,
  yAxis: yAxes,
  legend: legends,
  graphic: graphics,
  series,
};

export default function App() {
  const ref = useRef<HTMLDivElement>(null);
  useEffect(() => {
    const chart = echarts.init(ref.current!, undefined, { renderer: "svg" });
    chart.setOption(option);
    return () => chart.dispose();
  }, []);
  return <div ref={ref} style={{ position: "absolute", left: 0, top: 0, width: 685, height: 780 }} />;
}
